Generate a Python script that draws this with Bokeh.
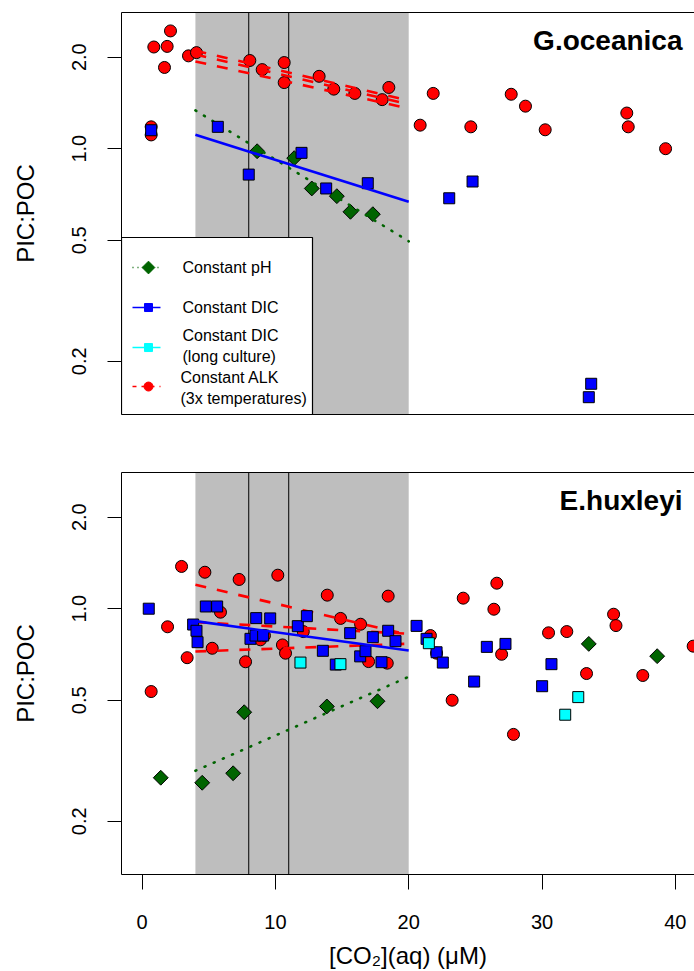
import numpy as np
from bokeh.plotting import figure
from bokeh.models import Range1d, FixedTicker, LinearAxis, Label, PrintfTickFormatter
from bokeh.layouts import column
from bokeh.embed import file_html
from bokeh.resources import INLINE
from bokeh.core.properties import value

FONT = "Liberation Sans"

# ---------------- data ----------------
# shaded CO2 range and marked reference levels
shade_x = [4, 20]
ref_lines_x = [8, 11]
fit_x = [4, 20]

# G.oceanica
g_alk_x = [2.13, 0.88, 1.88, 1.68, 3.48, 4.08, 0.68, 0.68, 8.08, 9.01, 10.66, 10.66, 13.28,
           14.38, 15.96, 18.01, 18.51, 20.86, 21.84, 24.66, 27.69, 28.76, 30.24, 36.36, 36.47, 39.27]
g_alk_y = [2.44, 2.16, 2.17, 1.85, 2.02, 2.07, 1.18, 1.11, 1.95, 1.82, 1.92, 1.65, 1.73,
           1.57, 1.52, 1.45, 1.59, 1.195, 1.52, 1.18, 1.51, 1.38, 1.154, 1.31, 1.18, 1.00]
g_dic_x = [0.68, 5.68, 8.0, 11.96, 13.81, 16.93, 24.79, 23.04, 33.69, 33.51]
g_dic_y = [1.15, 1.18, 0.822, 0.969, 0.74, 0.77, 0.78, 0.687, 0.1686, 0.1523]
g_ph_x = [8.63, 11.41, 12.73, 14.61, 15.63, 17.31]
g_ph_y = [0.981, 0.931, 0.74, 0.698, 0.62, 0.609]
g_ph_fit = [1.336, 0.496]
g_dic_fit = [1.111, 0.669]
g_alk_fits = [[2.10, 1.44], [2.04, 1.40], [1.936, 1.356]]

# E.huxleyi
e_alk_x = [2.96, 4.71, 7.28, 10.18, 13.89, 18.46, 5.88, 1.91, 5.26, 3.38, 0.68, 7.76, 8.88,
           9.18, 10.53, 10.76, 12.09, 14.89, 16.39, 16.99, 18.39, 21.63, 22.09, 24.09, 26.61,
           26.39, 26.97, 30.49, 31.86, 35.37, 35.55, 33.34, 37.56, 41.34, 23.26, 27.86]
e_alk_y = [1.377, 1.318, 1.248, 1.289, 1.108, 1.10, 0.974, 0.872, 0.741, 0.690, 0.534, 0.669, 0.79,
           0.816, 0.76, 0.714, 0.841, 0.929, 0.889, 0.670, 0.662, 0.816, 0.714, 1.083, 1.213,
           0.996, 0.708, 0.833, 0.841, 0.959, 0.88, 0.612, 0.603, 0.753, 0.50, 0.386]
e_dic_x = [0.5, 3.83, 4.08, 4.16, 4.78, 5.63, 8.56, 9.61, 8.13, 8.51, 9.08, 11.68, 12.36, 13.56,
           14.53, 15.61, 16.36, 16.76, 17.31, 17.96, 18.46, 19.01, 20.59, 21.34, 22.09, 22.56,
           24.91, 25.86, 27.26, 30.71, 30.01]
e_dic_y = [1.0, 0.887, 0.846, 0.776, 1.017, 1.017, 0.931, 0.929, 0.796, 0.816, 0.816, 0.876, 0.945,
           0.727, 0.655, 0.831, 0.697, 0.725, 0.806, 0.667, 0.846, 0.782, 0.878, 0.796, 0.719,
           0.665, 0.576, 0.749, 0.766, 0.657, 0.556]
e_long_x = [11.88, 14.88, 21.51, 32.72, 31.74]
e_long_y = [0.665, 0.657, 0.77, 0.512, 0.448]
e_ph_x = [1.4, 4.51, 6.83, 7.66, 13.86, 17.66, 33.51, 38.64]
e_ph_y = [0.278, 0.2676, 0.2876, 0.4566, 0.477, 0.4962, 0.766, 0.698]
e_ph_fit = [0.293, 0.597]
e_dic_fit = [0.910, 0.729]
e_alk_fits = [[1.198, 0.821], [0.903, 0.827], [0.723, 0.767]]

y_ticks = [0.2, 0.5, 1.0, 2.0]
x_ticks = [0, 10, 20, 30, 40]

# ---------------- layout ----------------
X_START, X_END = -1.545, 41.44
Y_START, Y_END = 0.1336, 2.805
RED, BLUE, CYAN, GREEN = "#FF0000", "#0000FF", "#00FFFF", "#006400"

# pixel helpers for the in-panel legend / labels (panel 1 geometry)
def px2x(px):
    return (px - 141.6) / 13.33

def px2y(py):
    return 10 ** ((148.2 - py) / 304.0)


def make_panel(height, border_bottom, bottom_axis):
    p = figure(width=694, height=height, x_range=Range1d(X_START, X_END),
               y_range=Range1d(Y_START, Y_END), y_axis_type="log",
               output_backend="svg", toolbar_location=None,
               min_border_left=121, min_border_right=0, min_border_top=12,
               min_border_bottom=border_bottom)
    p.outline_line_color = None
    p.grid.visible = False
    yax = p.yaxis[0]
    yax.ticker = FixedTicker(ticks=y_ticks)
    yax.formatter = PrintfTickFormatter(format="%.1f")
    yax.minor_tick_line_color = None
    yax.major_tick_in = 0
    yax.major_tick_out = 14
    yax.major_label_orientation = "vertical"
    yax.major_label_text_font = FONT
    yax.major_label_text_font_size = "20px"
    yax.major_label_text_color = "black"
    yax.major_label_standoff = 21
    yax.axis_line_color = "black"
    yax.major_tick_line_color = "black"
    yax.axis_label = "PIC:POC"
    yax.axis_label_text_font = FONT
    yax.axis_label_text_font_size = "24px"
    yax.axis_label_text_font_style = "normal"
    yax.axis_label_text_color = "black"
    yax.axis_label_standoff = 31

    xax = p.xaxis[0]
    xax.axis_line_color = "black"
    if bottom_axis:
        xax.ticker = FixedTicker(ticks=x_ticks)
        xax.major_tick_in = 0
        xax.major_tick_out = 15
        xax.minor_tick_line_color = None
        xax.major_tick_line_color = "black"
        xax.major_label_text_font = FONT
        xax.major_label_text_font_size = "20px"
        xax.major_label_text_color = "black"
        xax.major_label_standoff = 25
        xax.axis_label = "[CO\u2082](aq) (\u03bcM)"
        xax.axis_label_text_font = FONT
        xax.axis_label_text_font_size = "24px"
        xax.axis_label_text_font_style = "normal"
        xax.axis_label_text_color = "black"
        xax.axis_label_standoff = 10
    else:
        xax.ticker = FixedTicker(ticks=[])
        xax.minor_tick_line_color = None
        xax.major_label_text_font_size = "0px"

    top = LinearAxis(ticker=FixedTicker(ticks=[]), axis_line_color="black",
                     major_label_text_font_size="0px", minor_tick_line_color=None)
    p.add_layout(top, "above")

    # shaded range and reference lines
    p.quad(left=[shade_x[0]], right=[shade_x[1]], bottom=[Y_START], top=[Y_END],
           fill_color="#BEBEBE", line_color=None)
    p.segment(x0=ref_lines_x, x1=ref_lines_x, y0=[Y_START] * 2, y1=[Y_END] * 2,
              line_color="black", line_width=1)
    return p


def draw_series(p, alk_x, alk_y, alk_fits, ph_x, ph_y, ph_fit, dic_x, dic_y, dic_fit,
                long_x=None, long_y=None):
    p.scatter(alk_x, alk_y, marker="circle", size=12, fill_color=RED,
              line_color="black", line_width=1)
    for f in alk_fits:
        p.line(fit_x, f, line_color=RED, line_width=2.6, line_dash="11 11")
    p.scatter(ph_x, ph_y, marker="square", angle=np.pi / 4, size=10.5,
              fill_color=GREEN, line_color="black", line_width=1)
    p.line(fit_x, ph_fit, line_color=GREEN, line_width=2.6, line_dash="1 9",
           line_cap="round")
    p.scatter(dic_x, dic_y, marker="square", size=11, fill_color=BLUE,
              line_color="black", line_width=1)
    p.line(fit_x, dic_fit, line_color=BLUE, line_width=2.6)
    if long_x is not None:
        p.scatter(long_x, long_y, marker="square", size=11, fill_color=CYAN,
                  line_color="black", line_width=1)


# ---------------- panel 1 ----------------
p1 = make_panel(460, 46, False)
draw_series(p1, g_alk_x, g_alk_y, g_alk_fits, g_ph_x, g_ph_y, g_ph_fit,
            g_dic_x, g_dic_y, g_dic_fit)
p1.add_layout(Label(x=px2x(682), y=px2y(40), text="G.oceanica", text_align="right",
                    text_baseline="middle", text_font=FONT, text_font_size="28px",
                    text_font_style="bold", text_color="black"))

# legend (drawn inside the panel, bottom-left)
p1.quad(left=[X_START], right=[px2x(312)], bottom=[Y_START], top=[px2y(237)],
        fill_color="white", line_color="black", line_width=1.2)
lx0, lx1, lm, lt = px2x(132), px2x(160), px2x(148), px2x(182)
rows = [px2y(267), px2y(307), px2y(347), px2y(386)]
p1.line([lx0, lx1], [rows[0]] * 2, line_color=GREEN, line_width=1.5, line_dash="1 4")
p1.scatter([lm], [rows[0]], marker="square", angle=np.pi / 4, size=9, fill_color=GREEN,
           line_color=GREEN)
p1.line([lx0, lx1], [rows[1]] * 2, line_color=BLUE, line_width=1.5)
p1.scatter([lm], [rows[1]], marker="square", size=8, fill_color=BLUE, line_color=BLUE)
p1.line([lx0, lx1], [rows[2]] * 2, line_color=CYAN, line_width=1.5)
p1.scatter([lm], [rows[2]], marker="square", size=8, fill_color=CYAN, line_color=CYAN)
p1.line([lx0, lx1], [rows[3]] * 2, line_color=RED, line_width=1.5, line_dash="4 5")
p1.scatter([lm], [rows[3]], marker="circle", size=9, fill_color=RED, line_color=RED)

leg_texts = ["Constant pH", "Constant DIC", "Constant DIC", "(long culture)",
             "Constant ALK", "(3x temperatures)"]
leg_tx = [lt, lt, lt, lt, px2x(180), px2x(180)]
leg_ty = [px2y(267), px2y(307), px2y(335), px2y(356), px2y(377), px2y(398)]
p1.text(x=leg_tx, y=leg_ty, text=leg_texts, text_font=value(FONT), text_font_size="16px",
        text_baseline="middle", text_align="left", text_color="black")

# ---------------- panel 2 ----------------
p2 = make_panel(511, 96, True)
draw_series(p2, e_alk_x, e_alk_y, e_alk_fits, e_ph_x, e_ph_y, e_ph_fit,
            e_dic_x, e_dic_y, e_dic_fit, e_long_x, e_long_y)
p2.add_layout(Label(x=px2x(682), y=px2y(40), text="E.huxleyi", text_align="right",
                    text_baseline="middle", text_font=FONT, text_font_size="28px",
                    text_font_style="bold", text_color="black"))

layout = column(p1, p2, spacing=0)
open("out.html", "w").write(file_html(layout, INLINE))
